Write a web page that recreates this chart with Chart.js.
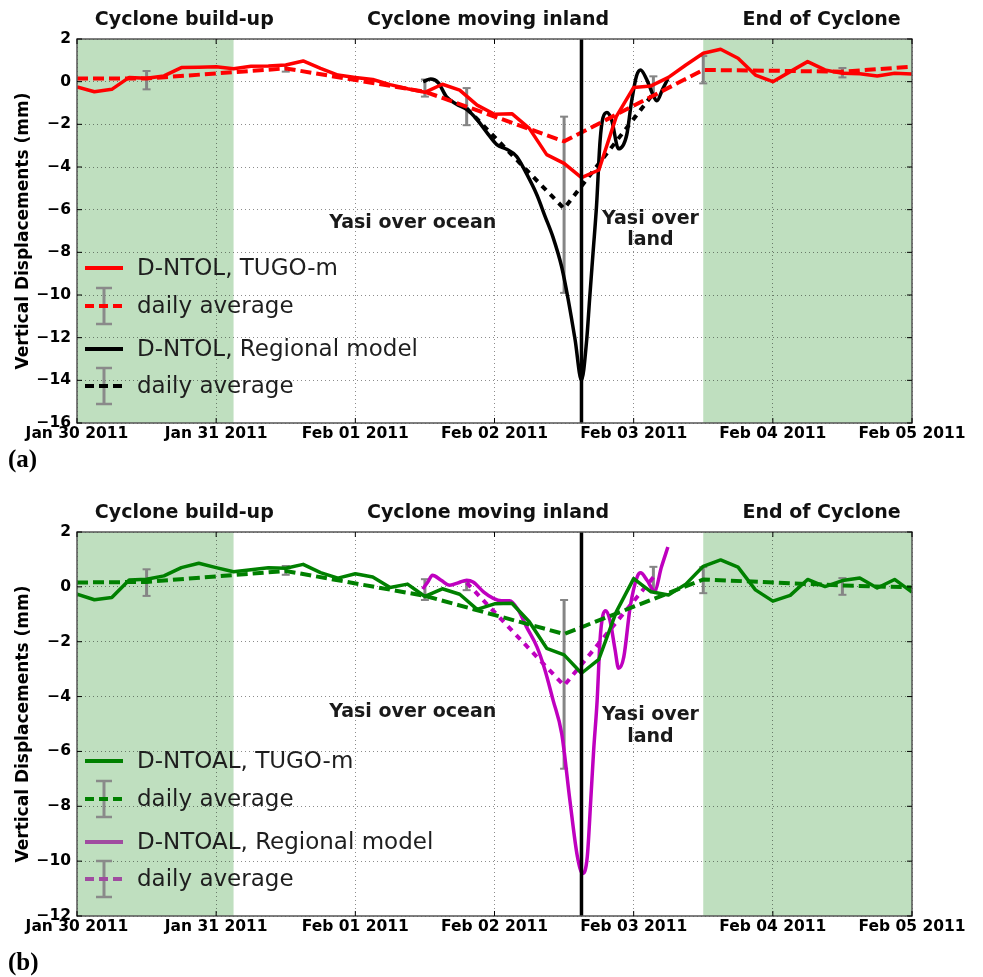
<!DOCTYPE html>
<html>
<head>
<meta charset="utf-8">
<script src="https://cdn.jsdelivr.net/npm/chart.js@4.4.0/dist/chart.umd.min.js"></script>
<style>
    body { margin: 0; background: #fff; width: 983px; height: 977px; overflow: hidden; position: relative; }
    .panel { position: absolute; left: 0; width: 983px; }
    #panelA { top: 0; height: 490px; }
    #panelB { top: 490px; height: 487px; }
</style>
</head>
<body>
<div class="panel" id="panelA"><canvas id="chartA"></canvas></div>
<div class="panel" id="panelB"><canvas id="chartB"></canvas></div>
<script>
// x axis: hours since Jan 30 2011 00:00
const tickHours = [0, 24, 48, 72, 96, 120, 144];
const tickLabels = ['Jan 30 2011', 'Jan 31 2011', 'Feb 01 2011', 'Feb 02 2011', 'Feb 03 2011', 'Feb 04 2011', 'Feb 05 2011'];
const phaseLabels = ['Cyclone build-up', 'Cyclone moving inland', 'End of Cyclone'];
const phaseHours = [18.5, 70.9, 128.4];
const shadeSpans = [[0, 27], [108, 144]];
const landfallHour = 87;

// 3-hourly TUGO-m series
const hours = [0, 3, 6, 9, 12, 15, 18, 21, 24, 27, 30, 33, 36, 39, 42, 45, 48, 51, 54, 57, 60, 63, 66, 69, 72,
    75, 78, 81, 84, 87, 90, 93, 96, 99, 102, 105, 108, 111, 114, 117, 120, 123, 126, 129, 132, 135, 138, 141, 144];
const ntolTugo = [-0.25, -0.47, -0.36, 0.2, 0.16, 0.27, 0.66, 0.68, 0.7, 0.61, 0.72, 0.73, 0.78, 0.97, 0.62, 0.31, 0.2,
    0.1, -0.14, -0.33, -0.5, -0.12, -0.4, -1.1, -1.53, -1.5, -2.19, -3.42, -3.83, -4.5, -4.14, -1.64, -0.27, -0.2, 0.2,
    0.78, 1.33, 1.52, 1.1, 0.31, 0.0, 0.47, 0.94, 0.55, 0.39, 0.37, 0.27, 0.39, 0.36];
const ntoalTugo = [-0.27, -0.47, -0.39, 0.25, 0.28, 0.4, 0.7, 0.86, 0.7, 0.55, 0.62, 0.7, 0.68, 0.82, 0.52, 0.32, 0.48,
    0.36, -0.02, 0.1, -0.35, -0.07, -0.27, -0.82, -0.62, -0.6, -1.27, -2.24, -2.48, -3.15, -2.64, -0.91, 0.3, -0.18, -0.3,
    0.1, 0.75, 0.98, 0.72, -0.11, -0.52, -0.31, 0.27, 0.01, 0.23, 0.32, -0.04, 0.27, -0.19];

// daily averages of TUGO-m
const tugoAvgHours = [0, 12, 36, 60, 84, 108, 132, 144];
const ntolTugoAvg = [0.15, 0.15, 0.62, -0.47, -2.8, 0.55, 0.47, 0.7];
const ntoalTugoAvg = [0.16, 0.18, 0.58, -0.33, -1.72, 0.27, 0.05, -0.02];

// regional model (D-NTOL)
const ntolRegHours = [59.7, 61, 62.3, 63.7, 65.4, 67.2, 68.9, 70.6, 72.4, 74.1, 75.8, 77.5, 79.3, 80.7, 82.1, 83.6,
    84.7, 85.9, 87, 87.9, 88.4, 89, 89.6, 90.2, 90.7, 91.4, 92.2, 93.4, 94.8, 95.6, 96.5, 97.2, 98.2, 99.4, 100, 101, 101.9];
const ntolReg = [0.0, 0.12, -0.05, -0.7, -1.05, -1.3, -1.75, -2.35, -2.95, -3.17, -3.5, -4.3, -5.3, -6.3, -7.3, -8.7,
    -10.2, -12.1, -14.0, -12.1, -10.2, -8.0, -5.8, -2.8, -1.7, -1.45, -1.8, -3.15, -2.5, -1.0, 0.28, 0.55, 0.13, -0.66,
    -0.9, -0.35, 0.13];
const regAvgHours = [67.2, 84, 99.4];
const ntolRegAvg = [-1.25, -5.95, -0.55];

// regional model (D-NTOAL)
const ntoalRegHours = [59.6, 60.5, 61.3, 62.8, 64.3, 65.8, 67.2, 68.3, 70.1, 71.8, 73.2, 74.6, 76.1, 77.5, 79.3, 80.7,
    82.1, 83.6, 85, 86.3, 87.2, 88, 88.6, 89.1, 89.7, 90.2, 90.7, 91.2, 91.9, 92.8, 93.4, 94.3, 95.4, 96.6, 97.2, 98.3,
    99.6, 100.8, 101.9];
const ntoalReg = [-0.08, 0.18, 0.42, 0.24, 0.06, 0.15, 0.24, 0.18, -0.18, -0.42, -0.51, -0.51, -0.85, -1.45, -2.18,
    -3.03, -4.13, -5.36, -7.78, -9.84, -10.45, -9.84, -7.78, -5.96, -4.15, -1.94, -1.03, -0.87, -1.21, -2.3, -2.97, -2.55,
    -0.73, 0.36, 0.51, 0.24, -0.15, 0.73, 1.45];
const ntoalRegAvg = [0.15, -3.6, 0.35];

// error bars of the daily averages
const errHours = [12, 36, 60, 67.2, 84, 99.4, 108, 132];
const errLowA = [-0.36, 0.47, -0.7, -2.04, -9.9, -0.66, -0.08, 0.2];
const errHighA = [0.5, 0.78, 0.1, -0.3, -1.64, 0.25, 1.2, 0.64];
const errLowB = [-0.33, 0.44, -0.48, -0.12, -6.63, -0.12, -0.23, -0.29];
const errHighB = [0.64, 0.76, 0.28, 0.18, -0.48, 0.73, 0.72, 0.32];

const FONT = "'DejaVu Sans', sans-serif";
Chart.defaults.font.family = FONT;

function series(xs, ys) {
    return xs.map((x, i) => ({ x: x, y: ys[i] }));
}

function line(ctx, x1, y1, x2, y2) {
    ctx.beginPath();
    ctx.moveTo(x1, y1);
    ctx.lineTo(x2, y2);
    ctx.stroke();
}

function buildPanel(canvasId, p) {
    const decor = {
        id: 'decor',
        beforeDraw(chart) {
            const { ctx, chartArea: a, scales: { x } } = chart;
            ctx.save();
            ctx.fillStyle = 'rgb(191,223,191)';
            shadeSpans.forEach(([s, e]) => {
                const x1 = x.getPixelForValue(s), x2 = x.getPixelForValue(e);
                ctx.fillRect(x1, a.top, x2 - x1, a.bottom - a.top);
            });
            ctx.restore();
        },
        beforeDatasetsDraw(chart) {
            const { ctx, scales: { x, y } } = chart;
            ctx.save();
            ctx.strokeStyle = '#858585';
            errHours.forEach((h, i) => {
                const px = x.getPixelForValue(h);
                const y1 = y.getPixelForValue(p.errLow[i]), y2 = y.getPixelForValue(p.errHigh[i]);
                ctx.lineWidth = 3;
                line(ctx, px, y1, px, y2);
                ctx.lineWidth = 2;
                line(ctx, px - 4, y1, px + 4, y1);
                line(ctx, px - 4, y2, px + 4, y2);
            });
            ctx.restore();
        },
        afterDraw(chart) {
            const { ctx, chartArea: a, scales: { x, y } } = chart;
            ctx.save();

            // frame and inward ticks
            ctx.strokeStyle = '#555';
            ctx.lineWidth = 1.5;
            ctx.strokeRect(a.left, a.top, a.right - a.left, a.bottom - a.top);
            ctx.strokeStyle = '#000';
            ctx.lineWidth = 1;
            y.ticks.forEach(t => {
                const py = y.getPixelForValue(t.value);
                line(ctx, a.left, py, a.left + 5, py);
                line(ctx, a.right - 5, py, a.right, py);
            });
            x.ticks.forEach(t => {
                const px = x.getPixelForValue(t.value);
                line(ctx, px, a.bottom, px, a.bottom - 5);
                line(ctx, px, a.top, px, a.top + 5);
            });

            // phase headers
            ctx.fillStyle = '#111';
            ctx.textAlign = 'center';
            ctx.textBaseline = 'middle';
            ctx.font = 'bold 19px ' + FONT;
            phaseLabels.forEach((s, i) => ctx.fillText(s, x.getPixelForValue(phaseHours[i]), a.top - 18.5));

            // in-plot notes
            ctx.fillStyle = '#1a1a1a';
            ctx.fillText('Yasi over ocean', x.getPixelForValue(57.9), y.getPixelForValue(p.oceanV));
            ctx.fillText('Yasi over', x.getPixelForValue(98.9), y.getPixelForValue(p.landV[0]));
            ctx.fillText('land', x.getPixelForValue(98.9), y.getPixelForValue(p.landV[1]));

            // y axis title
            ctx.save();
            ctx.translate(24, (a.top + a.bottom) / 2);
            ctx.rotate(-Math.PI / 2);
            ctx.font = 'bold 17px ' + FONT;
            ctx.fillStyle = '#000';
            ctx.fillText('Vertical Displacements (mm)', 0, 0);
            ctx.restore();

            // panel letter
            ctx.textAlign = 'left';
            ctx.fillStyle = '#000';
            ctx.font = "bold 25px 'Liberation Serif', serif";
            ctx.fillText(p.letter, 8, p.letterY);

            // legend
            const rows = [229, 267, 310, 347];
            const lx0 = a.left + 8, lx1 = a.left + 46, ex = a.left + 27;
            p.legend.forEach((item, i) => {
                const ry = a.top + rows[i];
                if (item.err) {
                    ctx.strokeStyle = '#8a8a8a';
                    ctx.lineWidth = 3;
                    line(ctx, ex, ry - 18, ex, ry + 18);
                    ctx.lineWidth = 2.5;
                    line(ctx, ex - 8, ry - 18, ex + 8, ry - 18);
                    line(ctx, ex - 8, ry + 18, ex + 8, ry + 18);
                }
                ctx.strokeStyle = item.color;
                ctx.lineWidth = 4;
                ctx.setLineDash(item.err ? [9, 5] : []);
                line(ctx, lx0, ry, lx1, ry);
                ctx.setLineDash([]);
                ctx.fillStyle = '#1e1e1e';
                ctx.font = '23px ' + FONT;
                ctx.fillText(item.label, a.left + 60, ry + 1);
            });
            ctx.restore();
        }
    };

    const tickFont = { family: FONT, weight: 'bold', size: 15.5 };
    const grid = { color: 'rgba(0,0,0,0.45)', lineWidth: 1, drawTicks: false };

    new Chart(document.getElementById(canvasId), {
        type: 'line',
        data: {
            datasets: [
                {
                    data: [{ x: landfallHour, y: p.yMin }, { x: landfallHour, y: p.yMax }],
                    borderColor: '#000', borderWidth: 3.5, pointRadius: 0
                },
                {
                    data: series(hours, p.tugo),
                    borderColor: p.tugoColor, borderWidth: 3.5, pointRadius: 0, borderJoinStyle: 'round'
                },
                {
                    data: series(tugoAvgHours, p.tugoAvg),
                    borderColor: p.tugoColor, borderWidth: 4, borderDash: [11, 5], pointRadius: 0
                },
                {
                    data: series(p.regHours, p.reg),
                    borderColor: p.regColor, borderWidth: 3.5, pointRadius: 0, cubicInterpolationMode: 'monotone'
                },
                {
                    data: series(regAvgHours, p.regAvg),
                    borderColor: p.regColor, borderWidth: 4, borderDash: [6, 6], pointRadius: 0
                }
            ]
        },
        options: {
            responsive: true,
            maintainAspectRatio: false,
            animation: false,
            devicePixelRatio: 1,
            layout: { padding: { top: p.padTop, right: 71, bottom: p.padBottom, left: 0 } },
            plugins: { legend: { display: false }, tooltip: { enabled: false } },
            scales: {
                x: {
                    type: 'linear', min: 0, max: 144,
                    afterBuildTicks: s => { s.ticks = tickHours.map(v => ({ value: v })); },
                    ticks: {
                        callback: (v, i) => tickLabels[i], font: tickFont, color: '#000',
                        padding: 2, maxRotation: 0, autoSkip: false
                    },
                    grid: grid,
                    border: { display: false, dash: [1, 3] },
                    afterFit: s => { s.height = 40; }
                },
                y: {
                    min: p.yMin, max: p.yMax,
                    ticks: {
                        stepSize: 2, font: tickFont, color: '#000', padding: 6,
                        callback: v => v < 0 ? '\u2212' + Math.abs(v) : String(v)
                    },
                    grid: grid,
                    border: { display: false, dash: [1, 3] },
                    afterFit: s => { s.width = 77; }
                }
            }
        },
        plugins: [decor]
    });
}

buildPanel('chartA', {
    yMin: -16, yMax: 2, padTop: 39, padBottom: 27,
    tugo: ntolTugo, tugoAvg: ntolTugoAvg, reg: ntolReg, regHours: ntolRegHours, regAvg: ntolRegAvg,
    tugoColor: '#ff0000', regColor: '#000000',
    errLow: errLowA, errHigh: errHighA,
    oceanV: -6.61, landV: [-6.45, -7.43],
    letter: '(a)', letterY: 461,
    legend: [
        { label: 'D-NTOL, TUGO-m', color: '#ff0000' },
        { label: 'daily average', color: '#ff0000', err: true },
        { label: 'D-NTOL, Regional model', color: '#000000' },
        { label: 'daily average', color: '#000000', err: true }
    ]
});

buildPanel('chartB', {
    yMin: -12, yMax: 2, padTop: 42, padBottom: 21,
    tugo: ntoalTugo, tugoAvg: ntoalTugoAvg, reg: ntoalReg, regHours: ntoalRegHours, regAvg: ntoalRegAvg,
    tugoColor: '#008000', regColor: '#bf00bf',
    errLow: errLowB, errHigh: errHighB,
    oceanV: -4.56, landV: [-4.68, -5.47],
    letter: '(b)', letterY: 474,
    legend: [
        { label: 'D-NTOAL, TUGO-m', color: '#008000' },
        { label: 'daily average', color: '#008000', err: true },
        { label: 'D-NTOAL, Regional model', color: '#a04ca0' },
        { label: 'daily average', color: '#a04ca0', err: true }
    ]
});
</script>
</body>
</html>
